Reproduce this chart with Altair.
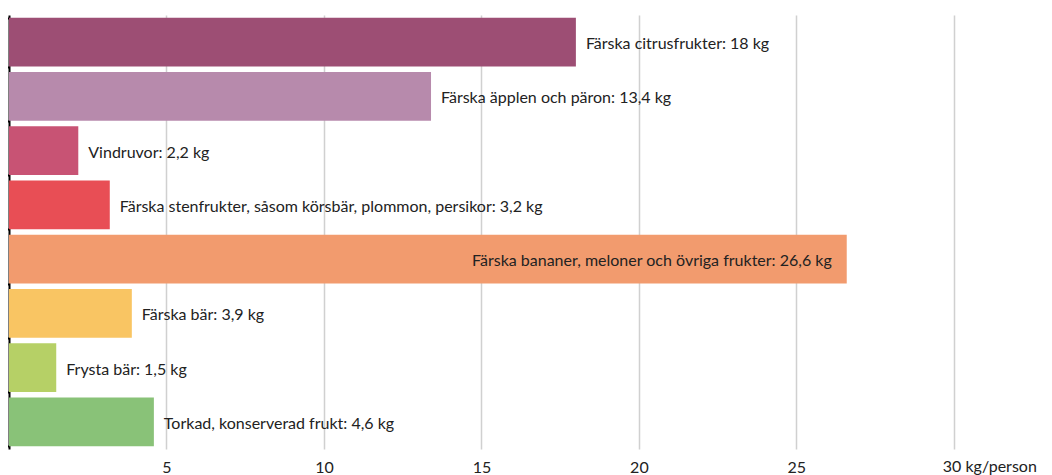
import altair as alt
import pandas as pd

categories = [
    "Färska citrusfrukter",
    "Färska äpplen och päron",
    "Vindruvor",
    "Färska stenfrukter, såsom körsbär, plommon, persikor",
    "Färska bananer, meloner och övriga frukter",
    "Färska bär",
    "Frysta bär",
    "Torkad, konserverad frukt",
]
values = [18, 13.4, 2.2, 3.2, 26.6, 3.9, 1.5, 4.6]
colors = ["#9d4e74", "#b78aac", "#c85374", "#e84e55", "#f29b6e", "#f9c563", "#b6d066", "#89c278"]

df = pd.DataFrame({"cat": categories, "val": values, "color": colors})
df["label"] = [f"{c}: {str(v).replace('.', ',')} kg" for c, v in zip(categories, values)]
df["inside"] = df["val"] > 20

FONT = "Lato"
FS = 16
W, H = 1033, 434

x = alt.X("val:Q", scale=alt.Scale(domain=[0, 32.8], nice=False),
          axis=alt.Axis(values=[5, 10, 15, 20, 25, 30], title=None, domain=False, ticks=False,
                        grid=True, gridColor="#d0d0d0", gridWidth=1.5,
                        labelExpr="datum.value == 30 ? '' : datum.label",
                        labelFont=FONT, labelFontSize=FS, labelColor="#222",
                        labelPadding=10))
y = alt.Y("cat:N", sort=categories, scale=alt.Scale(paddingInner=0.1, paddingOuter=0.05),
          axis=alt.Axis(title=None, labels=False, domain=True, domainColor="#000", domainWidth=2,
                        ticks=True, tickColor="#000", tickSize=3, tickWidth=2, tickBand="extent", grid=False))

bars = alt.Chart(df).mark_bar(cornerRadius=0).encode(
    x=x, y=y, color=alt.Color("color:N", scale=None)
)

text_out = alt.Chart(df).transform_filter("!datum.inside").mark_text(
    align="left", baseline="middle", dx=10, dy=2, font=FONT, fontSize=FS, color="#222"
).encode(x="val:Q", y=alt.Y("cat:N", sort=categories), text="label:N")

text_in = alt.Chart(df).transform_filter("datum.inside").mark_text(
    align="right", baseline="middle", dx=-15, dy=2, font=FONT, fontSize=FS, color="#222"
).encode(x="val:Q", y=alt.Y("cat:N", sort=categories), text="label:N")

unit_df = pd.DataFrame({"v": [30], "t": ["30 kg/person"]})
unit = alt.Chart(unit_df).mark_text(
    align="left", baseline="top", dx=-11, font=FONT, fontSize=FS, color="#222"
).encode(x="v:Q", y=alt.value(H + 10), text="t:N")

chart = alt.layer(bars, text_out, text_in, unit).properties(
    width=W, height=H,
    autosize=alt.AutoSizeParams(type="none"),
    padding={"left": 1, "top": 7, "right": 0, "bottom": 30},
).configure_view(stroke=None).configure_axis(labelFont=FONT)

chart.save("out.html", embed_options={"renderer": "svg", "actions": False})
